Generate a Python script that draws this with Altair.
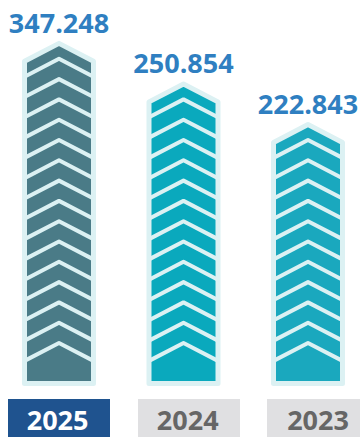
import altair as alt
import pandas as pd

# ---- data ----
years = ["2025", "2024", "2023"]
values = ["347.248", "250.854", "222.843"]
chevrons = [15, 13, 11]          # white chevron stripes in each column

bar_colors = ["#4a7b87", "#0aa9bd", "#1aa8be"]
box_colors = ["#1f538f", "#e0e0e2", "#e0e0e2"]
year_text_colors = ["#ffffff", "#666666", "#666666"]
light = "#dcf1f3"

W, H = 364, 437
# layout in pixel terms -> converted to scale units
X0, XSTEP = 59.0, 124.5          # first column centre, spacing
Y0, YSTEP = 386.0, 20.3          # column bottom, stripe spacing


def ux(px):
    return (px - X0) / XSTEP


def uy(py):
    return (Y0 - py) / YSTEP


xdom = [ux(0), ux(W)]
ydom = [uy(H), uy(0)]
xs = alt.Scale(domain=xdom, nice=False, zero=False)
ys = alt.Scale(domain=ydom, nice=False, zero=False)

half = 34.5 / XSTEP               # half width of column (border centre line)
first = (Y0 - 343) / YSTEP        # first stripe apex (from the bottom)
drop = 17.9 / YSTEP               # chevron slope drop over half width
bottom = (Y0 - 383.5) / YSTEP

area_rows, stripe_rows, label_rows = [], [], []
for i, (yr, v, n) in enumerate(zip(years, values, chevrons)):
    top_stripe = first + (n - 1)
    apex = top_stripe + 0.76
    for dx, dy in [(-half, drop), (0, 0), (half, drop)]:
        area_rows.append({"year": yr, "x": i + dx, "y": apex - dy, "y2": bottom})
    for k in range(n):
        a = first + k
        for dx, dy in [(-half, drop), (0, 0), (half, drop)]:
            stripe_rows.append({"sid": f"{yr}-{k}", "x": i + dx, "y": a - dy})
    label_rows.append({"year": yr, "value": v, "x": i, "y": top_stripe + 0.9})

areas = pd.DataFrame(area_rows)
stripes = pd.DataFrame(stripe_rows)
labels = pd.DataFrame(label_rows)

box_px = [(8, 110, 57.6), (138, 240, 187.7), (267, 360, 318.0)]
boxes = pd.DataFrame({
    "year": years,
    "x": [ux(b[0]) for b in box_px],
    "x2": [ux(b[1]) for b in box_px],
    "tx": [ux(b[2]) for b in box_px],
    "y": [uy(399)] * 3,
    "y2": [uy(H + 5)] * 3,
    "ty": [uy(430)] * 3,
})

col_scale = alt.Scale(domain=years, range=bar_colors)

body = alt.Chart(areas).mark_area(
    orient="vertical", stroke=light, strokeWidth=5, strokeJoin="round", opacity=1
).encode(
    x=alt.X("x:Q", scale=xs, axis=None),
    y=alt.Y("y:Q", scale=ys, axis=None),
    y2="y2:Q",
    fill=alt.Fill("year:N", scale=col_scale, legend=None),
    detail="year:N",
)

lines = alt.Chart(stripes).mark_line(
    color=light, strokeWidth=4, strokeJoin="round"
).encode(
    x=alt.X("x:Q", scale=xs, axis=None),
    y=alt.Y("y:Q", scale=ys, axis=None),
    detail="sid:N",
)

value_text = alt.Chart(labels).mark_text(
    font="Open Sans", fontWeight="bold", fontSize=27, color="#2f7fc1",
    baseline="alphabetic", align="center", dy=-8
).encode(
    x=alt.X("x:Q", scale=xs, axis=None),
    y=alt.Y("y:Q", scale=ys, axis=None),
    text="value:N",
)

box = alt.Chart(boxes).mark_rect().encode(
    x=alt.X("x:Q", scale=xs, axis=None),
    x2="x2:Q",
    y=alt.Y("y:Q", scale=ys, axis=None),
    y2="y2:Q",
    color=alt.Color("year:N", scale=alt.Scale(domain=years, range=box_colors), legend=None),
)

year_text = alt.Chart(boxes).mark_text(
    font="Open Sans", fontWeight="bold", fontSize=27, baseline="alphabetic", align="center"
).encode(
    x=alt.X("tx:Q", scale=xs, axis=None),
    y=alt.Y("ty:Q", scale=ys, axis=None),
    text="year:N",
    color=alt.Color("year:N", scale=alt.Scale(domain=years, range=year_text_colors), legend=None),
)

chart = alt.layer(body, lines, value_text, box, year_text).resolve_scale(
    color="independent", fill="independent"
).properties(
    width=W, height=H, padding=0, autosize=alt.AutoSizeParams(type="none"),
    background="#ffffff",
).configure_view(stroke=None)

chart.save("out.html", embed_options={"renderer": "svg", "actions": False})
